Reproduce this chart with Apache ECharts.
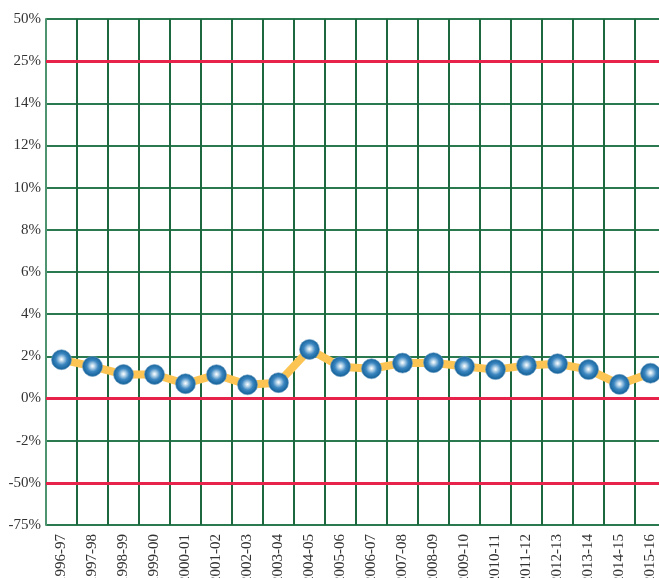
<!DOCTYPE html>
<html>
<head>
<meta charset="utf-8">
<style>
  html, body { margin: 0; padding: 0; background: #ffffff; overflow: hidden; }
  #chart { width: 659px; height: 578px; }
</style>
<script src="https://cdn.jsdelivr.net/npm/echarts@6/dist/echarts.min.js"></script>
</head>
<body>
<div id="chart"></div>
<script>
// Fiscal years along the bottom
const years = ['1996-97','1997-98','1998-99','1999-00','2000-01','2001-02','2002-03',
  '2003-04','2004-05','2005-06','2006-07','2007-08','2008-09','2009-10','2010-11',
  '2011-12','2012-13','2013-14','2014-15','2015-16'];

// Yearly rate, in percent
const rates = [1.84, 1.52, 1.14, 1.14, 0.70, 1.13, 0.65, 0.75, 2.33, 1.51, 1.41,
  1.68, 1.70, 1.52, 1.37, 1.57, 1.65, 1.37, 0.67, 1.20];

// Axis stops (evenly spaced) and the text printed at each stop
const yTickValues = [-6, -4, -2, 0, 2, 4, 6, 8, 10, 12, 14, 16, 18];
const yTickLabels = ['-75%', '-50%', '-2%', '0%', '2%', '4%', '6%', '8%', '10%', '12%', '14%', '25%', '50%'];

// Stops that get a red rule
const redRuleLabels = ['-50%', '0%', '25%'];

const labelAt = v => {
  const i = yTickValues.indexOf(v);
  return i >= 0 ? yTickLabels[i] : '';
};
const valueOf = lbl => yTickValues[yTickLabels.indexOf(lbl)];

const serif = '"Liberation Serif", "DejaVu Serif", serif';

const chart = echarts.init(document.getElementById('chart'));
chart.setOption({
  animation: false,
  backgroundColor: '#ffffff',
  // plot runs a little past the right edge of the canvas; labels may be clipped
  grid: { left: 46, width: 620, top: 19, height: 506, containLabel: false, outerBoundsMode: 'none' },
  xAxis: {
    type: 'category',
    data: years,
    boundaryGap: true,
    axisLine: { lineStyle: { color: '#4f9470', width: 2 } },
    axisTick: { show: false },
    axisLabel: {
      rotate: 90,
      margin: 9,
      color: '#333333',
      fontFamily: serif,
      fontSize: 15
    },
    splitLine: { show: true, lineStyle: { color: '#1e6840', width: 2 } }
  },
  yAxis: {
    type: 'value',
    min: -6,
    max: 18,
    interval: 2,
    axisLine: { show: true, lineStyle: { color: '#4f9470', width: 2 } },
    axisTick: { show: false },
    axisLabel: {
      margin: 5,
      color: '#333333',
      fontFamily: serif,
      fontSize: 15,
      formatter: v => labelAt(v)
    },
    splitLine: { show: true, lineStyle: { color: '#2b7a4f', width: 2 } }
  },
  series: [{
    type: 'line',
    data: rates,
    z: 5,
    lineStyle: { color: '#fcc452', width: 8 },
    symbol: 'circle',
    symbolSize: 20,
    itemStyle: {
      color: {
        type: 'radial', x: 0.5, y: 0.48, r: 0.5,
        colorStops: [
          { offset: 0, color: '#ffffff' },
          { offset: 0.18, color: '#c2dcee' },
          { offset: 0.55, color: '#3b86c0' },
          { offset: 1, color: '#125f97' }
        ]
      },
      borderColor: '#6f9fc4',
      borderWidth: 0.6
    },
    markLine: {
      silent: true,
      symbol: ['none', 'none'],
      label: { show: false },
      lineStyle: { color: '#e8234b', width: 3, type: 'solid' },
      data: redRuleLabels.map(l => ({ yAxis: valueOf(l) }))
    }
  }]
});
</script>
</body>
</html>
